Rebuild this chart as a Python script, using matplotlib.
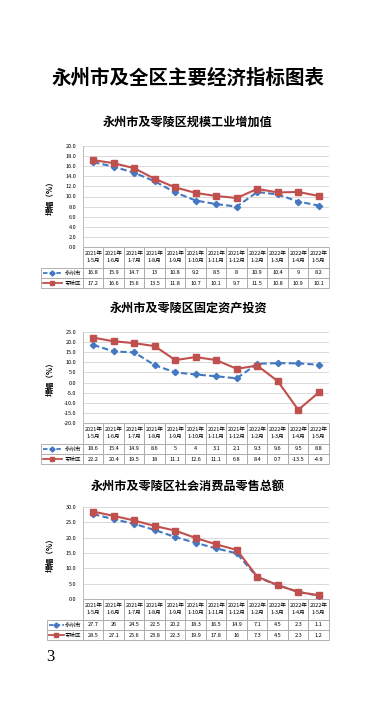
import numpy as np
import matplotlib
matplotlib.use('Agg')
import matplotlib.pyplot as plt
from matplotlib.lines import Line2D

plt.rcParams['font.family'] = ['Noto Sans CJK SC', 'DejaVu Sans']

W, H = 377, 718

periods = ['2021年\n1-5月', '2021年\n1-6月', '2021年\n1-7月', '2021年\n1-8月',
           '2021年\n1-9月', '2021年\n1-10月', '2021年\n1-11月', '2021年\n1-12月',
           '2022年\n1-2月', '2022年\n1-3月', '2022年\n1-4月', '2022年\n1-5月']
series_names = ['永州市', '零陵区']

# 规模工业增加值
industry_yz = [16.8, 15.9, 14.7, 13, 10.8, 9.2, 8.5, 8, 10.9, 10.4, 9, 8.2]
industry_ll = [17.2, 16.6, 15.6, 13.5, 11.8, 10.7, 10.1, 9.7, 11.5, 10.8, 10.9, 10.1]

# 固定资产投资
invest_yz = [18.6, 15.4, 14.9, 8.6, 5, 4, 3.1, 2.1, 9.3, 9.6, 9.5, 8.8]
invest_ll = [22.2, 20.4, 19.5, 18, 11.1, 12.6, 11.1, 6.8, 8.4, 0.7, -13.5, -4.9]

# 社会消费品零售总额
retail_yz = [27.7, 26, 24.5, 22.5, 20.2, 18.3, 16.5, 14.9, 7.1, 4.5, 2.3, 1.1]
retail_ll = [28.5, 27.1, 25.6, 23.8, 22.3, 19.9, 17.8, 16, 7.3, 4.5, 2.3, 1.2]

blue = '#4479C2'
red = '#C0504D'
grid_c = '#D9D9D9'
edge_c = '#A6A6A6'


def px(x, y):
    return x / W, 1 - y / H


def draw_chart(fig, title, title_y, top, bottom, label_x, ylim, ystep, yz, ll):
    left, right = 83, 329
    ax = fig.add_axes([left / W, 1 - bottom / H, (right - left) / W, (bottom - top) / H])
    x = np.arange(len(periods))
    ax.plot(x, yz, color=blue, lw=1.5, ls=(0, (3, 1.5)), marker='D', ms=3.2, zorder=3)
    ax.plot(x, ll, color=red, lw=1.5, marker='s', ms=4, zorder=3)
    ax.set_xlim(-0.5, len(periods) - 0.5)
    ax.set_ylim(*ylim)
    ax.set_yticks(np.arange(ylim[0], ylim[1] + 0.01, ystep))
    ax.yaxis.set_major_formatter(matplotlib.ticker.FormatStrFormatter('%.1f'))
    ax.tick_params(axis='y', length=0, pad=5, labelsize=4)
    ax.set_xticks([])
    ax.grid(axis='y', color=grid_c, lw=0.7)
    ax.set_axisbelow(True)
    for s in ['top', 'right', 'bottom']:
        ax.spines[s].set_visible(False)
    ax.spines['left'].set_color('#BFBFBF')
    ax.spines['left'].set_linewidth(0.7)

    fig.text(188 / W, 1 - title_y / H, title, ha='center', va='center',
             fontsize=8.7, fontweight='bold')
    fig.text(50 / W, 1 - (top + bottom) / 2 / H, '增幅（%）', rotation=90,
             ha='center', va='center', fontsize=5.5, fontweight='bold')

    # data table under the plot
    ah = bottom - top
    row_h = 10.3
    tab_h = row_h * 4
    cells = [[''] + periods,
             [''] + [f'{v:g}' for v in yz],
             [''] + [f'{v:g}' for v in ll]]
    widths = [left - label_x] + [(right - left) / len(periods)] * len(periods)
    tbl = ax.table(cellText=cells, colWidths=widths, cellLoc='center',
                   bbox=[(label_x - left) / (right - left), -tab_h / ah,
                         (right - label_x) / (right - left), tab_h / ah])
    tbl.auto_set_font_size(False)
    tbl.set_fontsize(4)
    h0 = tbl[1, 0].get_height()
    for (r, c), cell in tbl.get_celld().items():
        cell.set_edgecolor(edge_c)
        cell.set_linewidth(0.6)
        if r == 0:
            cell.set_height(2 * h0)
        cell.get_text().set_linespacing(1.5)
    tbl[0, 0].visible_edges = 'open'

    # legend keys in the row label cells
    styles = [dict(color=blue, ls=(0, (2.5, 1.2)), marker='D', ms=2.6),
              dict(color=red, ls='-', marker='s', ms=3)]
    key_w = 15 if label_x > 45 else 19
    for i, (name, st) in enumerate(zip(series_names, styles)):
        yc = bottom + 2 * row_h + row_h * (i + 0.5)
        x0, y0 = px(label_x + 1.5, yc)
        x1, _ = px(label_x + 1.5 + key_w, yc)
        fig.add_artist(Line2D([x0, (x0 + x1) / 2, x1], [y0, y0, y0], lw=1.3,
                              markevery=[1], **st))
        fig.text(81 / W, y0, name, ha='right', va='center', fontsize=4)
    return ax


def main():
    fig = plt.figure(figsize=(W / 100, H / 100), dpi=100)
    fig.patch.set_facecolor('white')

    fig.text(188 / W, 1 - 78 / H, '永州市及全区主要经济指标图表', ha='center',
             va='center', fontsize=14, fontweight='bold')

    draw_chart(fig, '永州市及零陵区规模工业增加值', 122, 146, 247, 41,
               (0, 20), 2, industry_yz, industry_ll)
    draw_chart(fig, '永州市及零陵区固定资产投资', 308, 332, 423, 41,
               (-20, 25), 5, invest_yz, invest_ll)
    draw_chart(fig, '永州市及零陵区社会消费品零售总额', 486, 507, 599, 47,
               (0, 30), 5, retail_yz, retail_ll)

    fig.text(46 / W, 1 - 657 / H, '3', ha='left', va='center', fontsize=12,
             family='Liberation Serif')

    fig.savefig('out.png', dpi=100)


if __name__ == '__main__':
    main()
